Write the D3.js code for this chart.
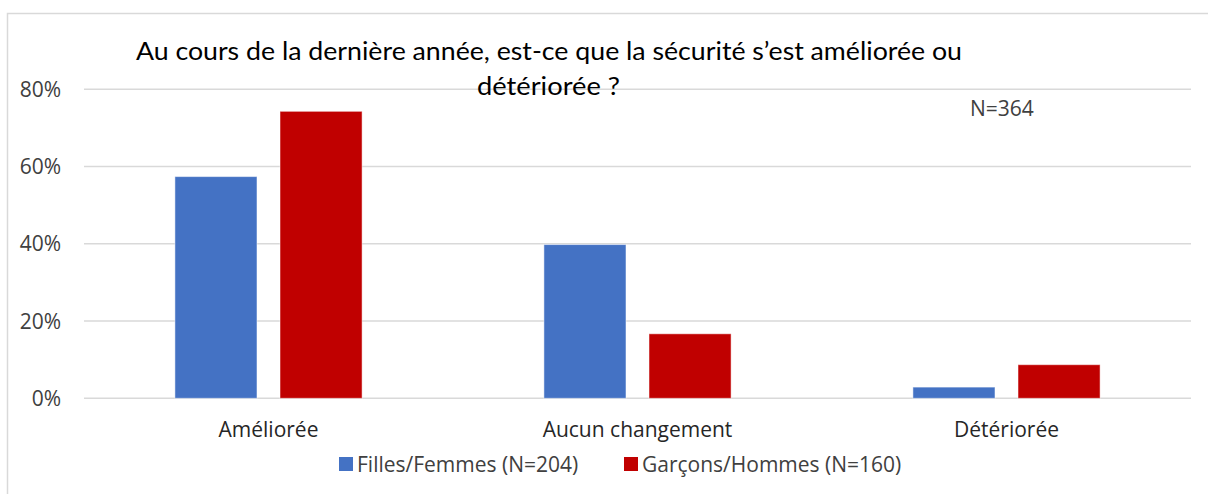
<!DOCTYPE html>
<html>
<head>
<meta charset="utf-8">
<script src="https://cdn.jsdelivr.net/npm/d3@7"></script>
<style>
  body { margin: 0; background: #fff; }
  svg { display: block; font-family: "Open Sans", Lato, sans-serif; }
</style>
</head>
<body>
<div id="chart"></div>
<script>
const categories = ["Améliorée", "Aucun changement", "Détériorée"];
const seriesNames = ["Filles/Femmes (N=204)", "Garçons/Hommes (N=160)"];
const seriesColors = ["#4472C4", "#C00000"];
const filles = [57.4, 39.8, 2.9];
const garcons = [74.3, 16.7, 8.7];
const yTicks = [0, 20, 40, 60, 80];
const titleLines = ["Au cours de la dernière année, est-ce que la sécurité s’est améliorée ou", "détériorée ?"];
const noteText = "N=364";

const W = 1208, H = 494;
const plot = { left: 84, right: 1191, top: 89.3, bottom: 398.3 };

const svg = d3.select("#chart").append("svg")
  .attr("width", W).attr("height", H);

// chart frame
svg.append("rect")
  .attr("x", 7.5).attr("y", 13.5)
  .attr("width", W + 10).attr("height", H + 10)
  .attr("fill", "none").attr("stroke", "#d9d9d9").attr("stroke-width", 1.5);

const y = d3.scaleLinear().domain([0, 80]).range([plot.bottom, plot.top]);
const x0 = d3.scaleBand().domain(categories).range([plot.left, plot.right]);
const x1 = d3.scaleBand().domain([0, 1]).range([0, x0.bandwidth()])
  .paddingInner(0.219).paddingOuter(0.865);

// gridlines
svg.append("g").selectAll("line").data(yTicks).join("line")
  .attr("x1", plot.left).attr("x2", plot.right)
  .attr("y1", d => y(d)).attr("y2", d => y(d))
  .attr("stroke", "#d9d9d9").attr("stroke-width", 1.5);

// y labels
svg.append("g").selectAll("text").data(yTicks).join("text")
  .attr("x", 61).attr("y", d => y(d) + 7.5)
  .attr("text-anchor", "end")
  .attr("font-size", 21).attr("fill", "#404040")
  .text(d => d + "%");

// bars
const rows = categories.map((c, i) => ({ cat: c, vals: [filles[i], garcons[i]] }));
svg.append("g").selectAll("g").data(rows).join("g")
  .attr("transform", d => `translate(${x0(d.cat)},0)`)
  .selectAll("rect").data(d => d.vals.map((v, s) => ({ v, s }))).join("rect")
  .attr("x", d => x1(d.s))
  .attr("width", x1.bandwidth())
  .attr("y", d => y(d.v))
  .attr("height", d => y(0) - y(d.v))
  .attr("fill", d => seriesColors[d.s])
  .attr("stroke", "#ffffff").attr("stroke-opacity", 0.5).attr("stroke-width", 1);

// category labels
svg.append("g").selectAll("text").data(categories).join("text")
  .attr("x", d => x0(d) + x0.bandwidth() / 2).attr("y", 437)
  .attr("text-anchor", "middle")
  .attr("font-size", 21).attr("fill", "#262626")
  .text(d => d);

// title
svg.append("text")
  .attr("x", 136).attr("y", 60)
  .attr("font-family", "Lato, sans-serif")
  .attr("font-size", 25).attr("fill", "#000")
  .attr("textLength", 826).attr("lengthAdjust", "spacingAndGlyphs")
  .text(titleLines[0]);
svg.append("text")
  .attr("x", 477).attr("y", 95)
  .attr("font-family", "Lato, sans-serif")
  .attr("font-size", 25).attr("fill", "#000")
  .attr("textLength", 143).attr("lengthAdjust", "spacingAndGlyphs")
  .text(titleLines[1]);

// note
svg.append("text")
  .attr("x", 970).attr("y", 116)
  .attr("font-size", 21).attr("fill", "#404040")
  .text(noteText);

// legend
const legendX = [339, 624];
const lg = svg.append("g").selectAll("g").data(seriesNames).join("g")
  .attr("transform", (d, i) => `translate(${legendX[i]},457)`);
lg.append("rect").attr("width", 14).attr("height", 14)
  .attr("fill", (d, i) => seriesColors[i]);
lg.append("text").attr("x", 18).attr("y", 14.5)
  .attr("font-size", 21).attr("fill", "#404040")
  .text(d => d);
</script>
</body>
</html>
